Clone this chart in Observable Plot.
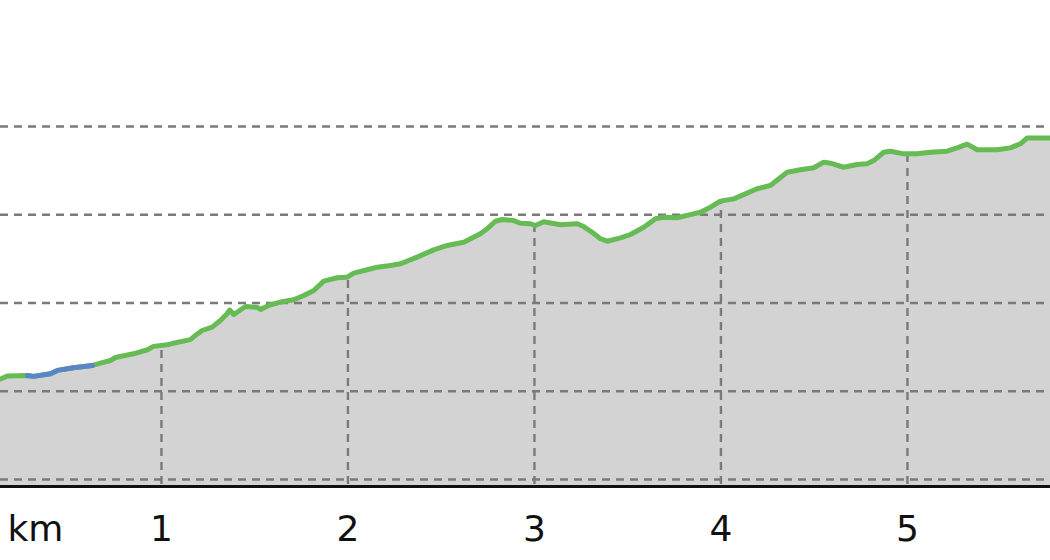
<!DOCTYPE html>
<html>
<head>
<meta charset="utf-8">
<script src="https://cdn.jsdelivr.net/npm/d3@7"></script>
<script src="https://cdn.jsdelivr.net/npm/@observablehq/plot@0.6"></script>
<style>
  html, body { margin: 0; padding: 0; background: #fff; }
  #chart svg { display: block; }
</style>
</head>
<body>
<div id="chart"></div>
<script>
// Distance along the route (km)
const distanceKm = [
  0.137, 0.174, 0.282, 0.314, 0.405, 0.442, 0.528, 0.630, 0.673, 0.727,
  0.753, 0.850, 0.925, 0.957, 1.032, 1.064, 1.155, 1.182, 1.218, 1.272,
  1.316, 1.352, 1.366, 1.388, 1.450, 1.513, 1.531, 1.575, 1.638, 1.709,
  1.763, 1.817, 1.870, 1.942, 1.996, 2.031, 2.103, 2.157, 2.228, 2.282,
  2.371, 2.460, 2.532, 2.621, 2.657, 2.710, 2.746, 2.791, 2.827, 2.889,
  2.925, 2.979, 3.005, 3.050, 3.139, 3.229, 3.264, 3.309, 3.354, 3.390,
  3.461, 3.515, 3.586, 3.649, 3.693, 3.765, 3.836, 3.890, 3.944, 3.997,
  4.069, 4.194, 4.265, 4.355, 4.426, 4.498, 4.551, 4.587, 4.658, 4.730,
  4.784, 4.819, 4.873, 4.909, 4.980, 5.052, 5.123, 5.213, 5.266, 5.320,
  5.374, 5.481, 5.552, 5.606, 5.642, 5.767
];
// Elevation (m)
const elevationM = [
  356.9, 358.6, 358.9, 358.4, 359.9, 361.8, 363.3, 364.6, 365.9, 367.4,
  369.1, 371.2, 373.5, 375.4, 376.3, 377.2, 379.2, 381.6, 384.4, 386.3,
  390.1, 393.9, 396.0, 393.5, 398.0, 397.6, 396.3, 398.6, 400.5, 401.8,
  404.2, 407.1, 412.4, 414.3, 414.6, 416.9, 418.8, 420.3, 421.2, 422.2,
  426.0, 430.1, 432.6, 434.4, 436.4, 439.2, 442.0, 446.3, 447.3, 446.7,
  445.2, 444.9, 443.9, 446.0, 444.3, 444.9, 443.3, 440.1, 436.4, 435.0,
  436.9, 438.8, 442.9, 447.7, 448.6, 448.3, 450.1, 451.4, 454.3, 457.7,
  459.0, 464.7, 466.6, 474.1, 475.5, 476.6, 479.8, 479.2, 476.9, 478.5,
  478.9, 480.7, 485.4, 486.0, 484.5, 484.5, 485.4, 486.0, 487.9, 490.0,
  486.8, 486.8, 487.9, 490.2, 493.5, 493.5
];
// Index range of the blue-highlighted stretch
const blueStart = 2, blueEnd = 7;

const kmTicks = [1, 2, 3, 4, 5];
const elevTicks = [300, 350, 400, 450, 500];
const xDomain = [0.137, 5.767];
const yDomain = [296, 571.4];
const unitLabel = ["km"];

const profile = distanceKm.map((d, i) => ({km: d, elev: elevationM[i]}));
const blueSeg = profile.slice(blueStart, blueEnd + 1);

const green = "#66bb55";
const blue = "#5a86c9";
const gridColor = "#7a7a7a";

const chart = Plot.plot({
  width: 1050,
  height: 560,
  marginTop: 0,
  marginLeft: 0,
  marginRight: 0,
  marginBottom: 74,
  style: {fontFamily: "DejaVu Sans", fontSize: "36px", background: "#fff", color: "#111"},
  x: {domain: xDomain, axis: null, label: null},
  y: {domain: yDomain, axis: null, label: null},
  marks: [
    Plot.areaY(profile, {x: "km", y1: yDomain[0], y2: "elev", fill: "#d3d3d3"}),
    Plot.ruleX(kmTicks, {stroke: gridColor, strokeWidth: 2.4, strokeDasharray: "8,6"}),
    Plot.areaY(profile, {x: "km", y1: "elev", y2: yDomain[1], fill: "#fff"}),
    Plot.ruleY(elevTicks, {stroke: gridColor, strokeWidth: 2.4, strokeDasharray: "8,6"}),
    Plot.line(profile, {x: "km", y: "elev", stroke: green, strokeWidth: 5, strokeLinejoin: "round"}),
    Plot.line(blueSeg, {x: "km", y: "elev", stroke: blue, strokeWidth: 5, strokeLinejoin: "round"}),
    Plot.ruleY([yDomain[0]], {stroke: "#111", strokeWidth: 3}),
    Plot.axisX(kmTicks, {tickSize: 0, tickPadding: 29, tickFormat: d => String(d), label: null}),
    Plot.text(unitLabel, {frameAnchor: "bottom-left", dx: 7, dy: 29, textAnchor: "start", lineAnchor: "top", fill: "#111"})
  ]
});
document.getElementById("chart").appendChild(chart);
</script>
</body>
</html>
